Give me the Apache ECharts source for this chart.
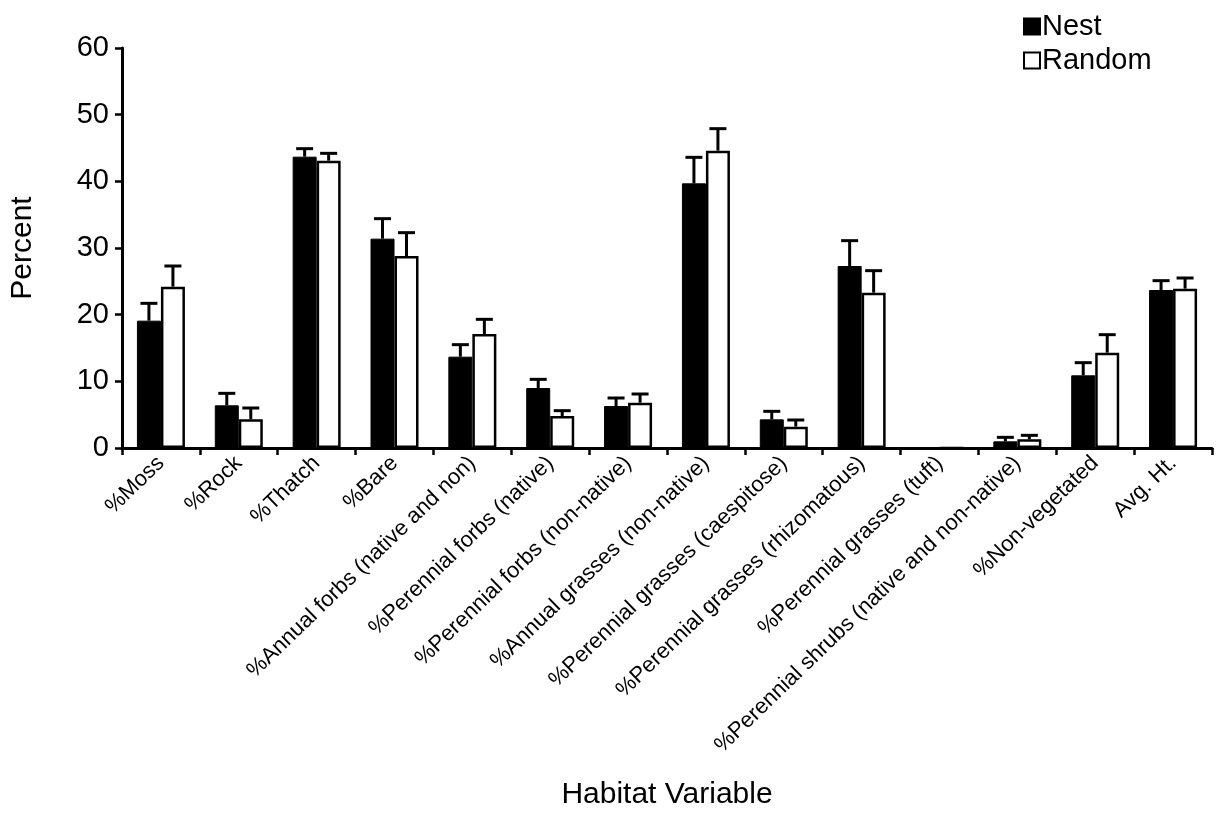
<!DOCTYPE html>
<html>
<head>
<meta charset="utf-8">
<script src="https://cdn.jsdelivr.net/npm/echarts@6/dist/echarts.min.js"></script>
<style>
html,body{margin:0;padding:0;background:#fff;}
#chart{width:1228px;height:825px;}
</style>
</head>
<body>
<div id="chart"></div>
<script>
const categories = [
  '%Moss', '%Rock', '%Thatch', '%Bare',
  '%Annual forbs (native and non)', '%Perennial forbs (native)',
  '%Perennial forbs (non-native)', '%Annual grasses (non-native)',
  '%Perennial grasses (caespitose)', '%Perennial grasses (rhizomatous)',
  '%Perennial grasses (tuft)', '%Perennial shrubs (native and non-native)',
  '%Non-vegetated', 'Avg. Ht.'
];
const nestValues   = [19.1, 6.4, 43.7, 31.4, 13.7, 9.0, 6.3, 39.7, 4.3, 27.3, 0, 1.0, 10.9, 23.7];
const nestErrors   = [2.6, 1.8, 1.2, 3.0, 1.8, 1.3, 1.2, 3.9, 1.2, 3.8, 0, 0.6, 1.9, 1.4];
const randomValues = [24.2, 4.3, 43.1, 28.8, 17.1, 4.8, 6.8, 44.6, 3.2, 23.3, 0, 1.3, 14.3, 23.9];
const randomErrors = [3.1, 1.7, 1.1, 3.5, 2.2, 0.8, 1.3, 3.3, 1.0, 3.3, 0, 0.6, 2.7, 1.6];
const yTicks = [0, 10, 20, 30, 40, 50, 60];

const FONT = '"Liberation Sans", Arial, Helvetica, sans-serif';
const BAR_W = 24;

function errData(vals, errs) {
  return vals.map((v, i) => [i, v, errs[i]]);
}
function errRender(offset) {
  return function (params, api) {
    const err = api.value(2);
    if (!err) return null;
    const idx = api.value(0);
    const v = api.value(1);
    const p0 = api.coord([idx, v]);
    const p1 = api.coord([idx, v + err]);
    const x = p0[0] + offset;
    const style = { stroke: '#000', lineWidth: 3 };
    return {
      type: 'group',
      children: [
        { type: 'line', shape: { x1: x, y1: p0[1], x2: x, y2: p1[1] }, style: style },
        { type: 'line', shape: { x1: x - 8.5, y1: p1[1], x2: x + 8.5, y2: p1[1] }, style: style }
      ]
    };
  };
}

const chart = echarts.init(document.getElementById('chart'));
chart.setOption({
  animation: false,
  backgroundColor: '#fff',
  textStyle: { fontFamily: FONT, color: '#000' },
  grid: { left: 120, right: 16, top: 48, bottom: 377, containLabel: false },
  legend: {
    orient: 'vertical',
    left: 1018,
    top: 7,
    itemWidth: 16,
    itemHeight: 16,
    itemGap: 5,
    icon: 'rect',
    data: ['Nest', 'Random'],
    textStyle: { fontFamily: FONT, fontSize: 29, color: '#000', padding: [0, 0, 0, -3] }
  },
  xAxis: {
    type: 'category',
    data: categories,
    boundaryGap: true,
    name: 'Habitat Variable',
    nameLocation: 'middle',
    nameGap: 332,
    nameTextStyle: { fontFamily: FONT, fontSize: 30, color: '#000' },
    axisLine: { lineStyle: { color: '#000', width: 3 } },
    axisTick: { show: true, interval: 0, length: 7, lineStyle: { color: '#000', width: 2.5 } },
    axisLabel: { interval: 0, rotate: 44, fontSize: 22, color: '#000', fontFamily: FONT, margin: 12 },
    splitLine: { show: false }
  },
  yAxis: {
    type: 'value',
    min: yTicks[0],
    max: yTicks[yTicks.length - 1],
    interval: 10,
    name: 'Percent',
    nameLocation: 'middle',
    nameGap: 84,
    nameTextStyle: { fontFamily: FONT, fontSize: 30, color: '#000' },
    axisLine: { show: true, lineStyle: { color: '#000', width: 3 } },
    axisTick: { show: true, length: 7, lineStyle: { color: '#000', width: 2.5 } },
    axisLabel: { fontSize: 29, color: '#000', fontFamily: FONT, margin: 13 },
    splitLine: { show: false }
  },
  series: [
    {
      name: 'Nest',
      type: 'bar',
      data: nestValues,
      barWidth: BAR_W,
      barGap: '0%',
      itemStyle: { color: '#000', borderColor: '#000', borderWidth: 1 }
    },
    {
      name: 'Random',
      type: 'bar',
      data: randomValues,
      barWidth: BAR_W,
      barGap: '0%',
      itemStyle: { color: '#fff', borderColor: '#000', borderWidth: 2.5 }
    },
    {
      name: 'NestErr',
      type: 'custom',
      data: errData(nestValues, nestErrors),
      renderItem: errRender(-BAR_W / 2),
      encode: { x: 0, y: 1 },
      z: 5
    },
    {
      name: 'RandomErr',
      type: 'custom',
      data: errData(randomValues, randomErrors),
      renderItem: errRender(BAR_W / 2),
      encode: { x: 0, y: 1 },
      z: 5
    }
  ]
});
</script>
</body>
</html>
